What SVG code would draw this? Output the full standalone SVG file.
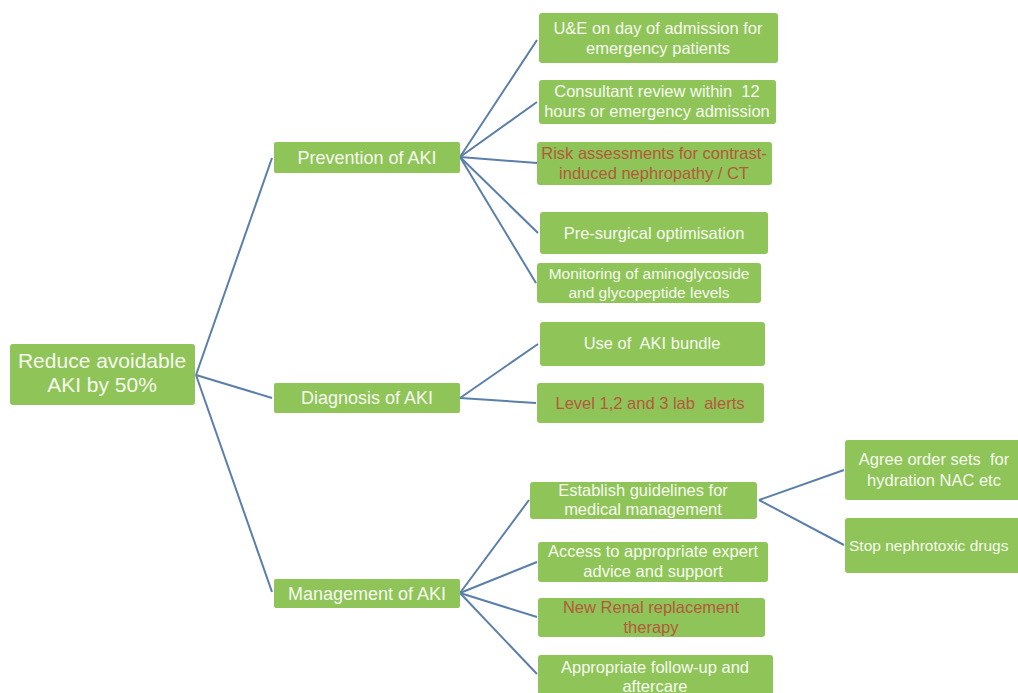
<svg xmlns="http://www.w3.org/2000/svg" width="1018" height="693" viewBox="0 0 1018 693">
<style>
.n{fill:#8fc458;}
.t{font-family:"Liberation Sans",Arial,sans-serif;font-size:16.5px;fill:#f6faef;text-anchor:middle;white-space:pre;}
.r{fill:#b35a3c;}
.big{font-size:21px;}
.mid{font-size:18px;}
.c{stroke:#5b7fa9;stroke-width:2;fill:none;}
</style>
<rect width="1018" height="693" fill="#ffffff"/>
<g id="connectors">
<line class="c" x1="196" y1="375" x2="272" y2="158"/>
<line class="c" x1="196" y1="375" x2="272" y2="398"/>
<line class="c" x1="196" y1="375" x2="272" y2="592"/>
<line class="c" x1="460" y1="157" x2="537" y2="40"/>
<line class="c" x1="460" y1="157" x2="537" y2="102"/>
<line class="c" x1="460" y1="157" x2="537" y2="163"/>
<line class="c" x1="460" y1="157" x2="538" y2="233"/>
<line class="c" x1="460" y1="157" x2="536" y2="283"/>
<line class="c" x1="460" y1="398" x2="538" y2="344"/>
<line class="c" x1="460" y1="398" x2="536" y2="403"/>
<line class="c" x1="460" y1="593" x2="529" y2="500"/>
<line class="c" x1="460" y1="593" x2="537" y2="562"/>
<line class="c" x1="460" y1="593" x2="537" y2="617"/>
<line class="c" x1="460" y1="593" x2="537" y2="674"/>
<line class="c" x1="759" y1="500" x2="844" y2="470"/>
<line class="c" x1="759" y1="500" x2="844" y2="545"/>
</g>
<g id="root"><rect class="n" x="10" y="344" width="185" height="61" rx="3"/>
<text class="t big" x="102" y="368">Reduce avoidable</text><text class="t big" x="102" y="392">AKI by 50%</text></g>
<g id="prevention"><rect class="n" x="274" y="142" width="186" height="31" rx="2"/>
<text class="t mid" x="367" y="164">Prevention of AKI</text></g>
<g id="diagnosis"><rect class="n" x="274" y="383" width="186" height="30" rx="2"/>
<text class="t mid" x="367" y="404">Diagnosis of AKI</text></g>
<g id="management"><rect class="n" x="274" y="579" width="186" height="29" rx="2"/>
<text class="t mid" x="367" y="600">Management of AKI</text></g>
<g id="ue"><rect class="n" x="539" y="13" width="239" height="50" rx="3"/>
<text class="t" x="658" y="34">U&amp;E on day of admission for</text><text class="t" x="658" y="54">emergency patients</text></g>
<g id="consultant"><rect class="n" x="539" y="80" width="237" height="44" rx="3"/>
<text class="t" x="657" y="97" xml:space="preserve">Consultant review within  12</text><text class="t" x="657" y="117">hours or emergency admission</text></g>
<g id="risk"><rect class="n" x="537" y="142" width="235" height="43" rx="3"/>
<text class="t r" x="654" y="159">Risk assessments for contrast-</text><text class="t r" x="654" y="179">induced nephropathy / CT</text></g>
<g id="presurgical"><rect class="n" x="540" y="212" width="228" height="42" rx="3"/>
<text class="t" x="654" y="239">Pre-surgical optimisation</text></g>
<g id="monitoring"><rect class="n" x="537" y="263" width="224" height="40" rx="3"/>
<text class="t" x="649" y="279" style="font-size:15.5px">Monitoring of aminoglycoside</text><text class="t" x="649" y="298" style="font-size:15.5px">and glycopeptide levels</text></g>
<g id="bundle"><rect class="n" x="540" y="322" width="225" height="44" rx="3"/>
<text class="t" x="652" y="349" xml:space="preserve">Use of  AKI bundle</text></g>
<g id="alerts"><rect class="n" x="537" y="383" width="227" height="40" rx="3"/>
<text class="t r" x="650" y="409" xml:space="preserve">Level 1,2 and 3 lab  alerts</text></g>
<g id="guidelines"><rect class="n" x="530" y="482" width="227" height="37" rx="3"/>
<text class="t" x="643" y="496">Establish guidelines for</text><text class="t" x="643" y="515">medical management</text></g>
<g id="expert"><rect class="n" x="538" y="542" width="230" height="40" rx="3"/>
<text class="t" x="653" y="557">Access to appropriate expert</text><text class="t" x="653" y="577">advice and support</text></g>
<g id="rrt"><rect class="n" x="538" y="598" width="227" height="39" rx="3"/>
<text class="t r" x="651" y="613">New Renal replacement</text><text class="t r" x="651" y="633">therapy</text></g>
<g id="followup"><rect class="n" x="538" y="655" width="235" height="45" rx="3"/>
<text class="t" x="655" y="673">Appropriate follow-up and</text><text class="t" x="655" y="692">aftercare</text></g>
<g id="ordersets"><rect class="n" x="845" y="440" width="185" height="60" rx="3"/>
<text class="t" x="934" y="465" xml:space="preserve">Agree order sets  for</text><text class="t" x="934" y="486">hydration NAC etc</text></g>
<g id="nephrotoxic"><rect class="n" x="845" y="518" width="185" height="55" rx="3"/>
<text class="t" x="849" y="551" style="text-anchor:start;font-size:15.5px">Stop nephrotoxic drugs</text></g>
</svg>
